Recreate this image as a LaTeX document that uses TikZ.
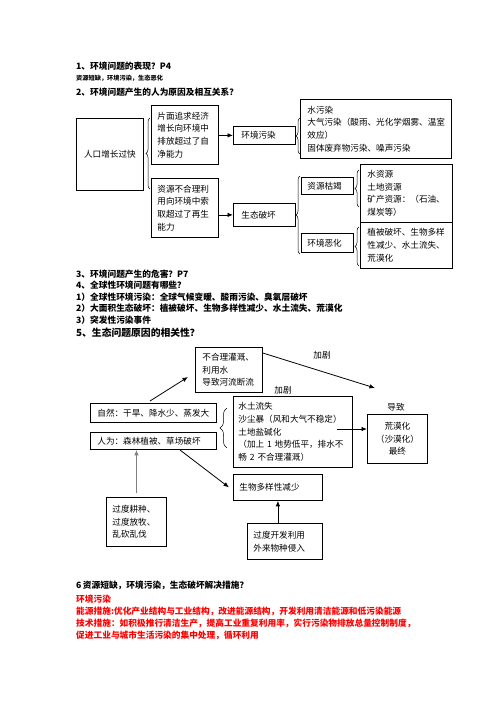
\documentclass[tikz,border=0pt]{standalone}
\usepackage{fontspec}
\setmainfont{Noto Sans CJK SC}
\usetikzlibrary{arrows.meta,decorations.pathreplacing,calc}
\definecolor{redtxt}{RGB}{255,0,0}
\definecolor{grayarr}{RGB}{128,128,128}
\tikzset{
  box/.style={draw, line width=0.8pt, inner sep=0pt, anchor=north west,
    font=\fontsize{8.6}{12.7}\selectfont},
  lbox/.style={box, align=left},
  cbox/.style={box, align=center},
  head/.style={font=\bfseries\fontsize{8.7}{10}\selectfont, anchor=west, inner sep=0pt},
  redline/.style={head, text=redtxt},
  lbl/.style={font=\fontsize{8.6}{10}\selectfont, inner sep=0pt},
  arr/.style={-{Latex[length=5.5pt,width=4.5pt]}, line width=0.8pt},
  grayarrow/.style={-{Latex[length=5.5pt,width=4.5pt]}, line width=1.6pt, draw=grayarr},
  brc/.style={decorate, decoration={brace, amplitude=4pt}, line width=0.5pt},
}
\begin{document}
\begin{tikzpicture}[x=1pt,y=-1pt]
\fill[white] (0,0) rectangle (496,702);
\useasboundingbox (0,0) rectangle (496,702);

% ---------- headings ----------
\node[head] (t1) at (76,66) {1、环境问题的表现？P4};
\node[head, font=\bfseries\fontsize{6.2}{8}\selectfont] (t2) at (76,78.5) {资源短缺，环境污染，生态恶化};
\node[head] (t3) at (76,92) {2、环境问题产生的人为原因及相互关系？};

% ---------- diagram 1 ----------
\node[cbox, minimum width=67, minimum height=72] (A) at (76,118) {人口增长过快};
\node[lbox, minimum width=67, minimum height=59, text width=55] (B1) at (151,105)
  {片面追求经济\\增长向环境中\\排放超过了自\\净能力};
\node[lbox, minimum width=67, minimum height=59, text width=55] (B2) at (151,178)
  {资源不合理利\\用向环境中索\\取超过了再生\\能力};
\node[lbox, minimum width=62, minimum height=18, text width=46] (C1) at (233,126) {环境污染};
\node[lbox, minimum width=62, minimum height=23, text width=46] (C2) at (233,203) {生态破坏};
\node[lbox, minimum width=151, minimum height=59, text width=137] (D1) at (300,99)
  {水污染\\大气污染（酸雨、光化学烟雾、温室\\效应）\\固体废弃物污染、噪声污染};
\node[lbox, minimum width=52, minimum height=17, text width=40] (E1) at (301,177) {资源枯竭};
\node[lbox, minimum width=52, minimum height=19, text width=40] (E2) at (301,233) {环境恶化};
\node[lbox, minimum width=92, minimum height=58, text width=78] (F1) at (360,164)
  {水资源\\土地资源\\矿产资源：（石油、\\煤炭等）};
\node[lbox, minimum width=92, minimum height=46, text width=78] (F2) at (360,222)
  {植被破坏、生物多样\\性减少、水土流失、\\荒漠化};

\draw[brc] (150,189) -- (150,118);
\draw[brc] (300,154) -- (300,118);
\draw[brc] (300,254) -- (300,176);
\draw[brc] (359,207) -- (359,170);
\draw[brc] (359,266) -- (359,227);

\draw[arr] (B1.east |- C1.west) -- (C1.west);
\draw[arr] (B2.east |- C2.west) -- (C2.west);

% ---------- middle text ----------
\node[head] (t4) at (76,274) {3、环境问题产生的危害？P7};
\node[head] (t5) at (76,285.5) {4、全球性环境问题有哪些？};
\node[head] (t6) at (76,297) {1）全球性环境污染：全球气候变暖、酸雨污染、臭氧层破坏};
\node[head] (t7) at (76,308.5) {2）大面积生态破坏：植被破坏、生物多样性减少、水土流失、荒漠化};
\node[head] (t8) at (76,320) {3）突发性污染事件};
\node[head, font=\bfseries\fontsize{9.8}{11}\selectfont] (t9) at (76,333) {5、生态问题原因的相关性？};

% ---------- diagram 2 ----------
\node[lbox, minimum width=67, minimum height=45, text width=53] (G) at (195,347)
  {不合理灌溉、\\利用水\\导致河流断流};
\node[lbox, minimum width=126, minimum height=19, text width=112] (H1) at (90,403) {自然：干旱、降水少、蒸发大};
\node[lbox, minimum width=126, minimum height=17, text width=112] (H2) at (90,432) {人为：森林植被、草场破坏};
\node[lbox, minimum width=119, minimum height=71, text width=109] (I) at (233,396)
  {水土流失\\沙尘暴（风和大气不稳定）\\土地盐碱化\\（加上 1 地势低平，排水不\\畅 2 不合理灌溉）};
\node[cbox, minimum width=60, minimum height=49] (J) at (367,414) {荒漠化\\（沙漠化）\\最终};
\node[lbox, minimum width=89, minimum height=26, text width=77] (K) at (233,474) {生物多样性减少\\[4pt]};
\node[lbox, minimum width=60, minimum height=49, text width=48] (L) at (106,497)
  {过度耕种、\\过度放牧、\\乱砍乱伐};
\node[lbox, minimum width=75, minimum height=36, text width=63] (M) at (247,523)
  {过度开发利用\\外来物种侵入};

\node[lbl] (j1) at (322,355) {加剧};
\node[lbl] (j2) at (283,390) {加剧};
\node[lbl] (j3) at (396,407) {导致};

\draw[brc, decoration={brace, amplitude=7pt}] (227,448) -- (227,408);

\coordinate (p1) at (150,401);
\coordinate (p2) at (188,377);
\draw[arr] (p1) -- (p2);
\coordinate (g1) at ($(G.north east)+(0,6)$);
\coordinate (g2) at (375,388);
\draw[arr] (g1) -- (g2);
\coordinate (q1) at (337,429);
\draw[arr] (q1) -- (J.west |- q1);
\coordinate (h1) at (180,450);
\draw[arr] (h1) -- ($(K.west)+(-4,0)$);
\draw[grayarrow, shorten <=4pt] (L.north) -- (L.north |- H2.south);
\draw[arr] (K.south |- M.north) -- (K.south);

% ---------- bottom text ----------
\node[head] (t10) at (76,585) {6\,资源短缺，环境污染，生态破坏解决措施？};
\node[redline] (t11) at (76,599.5) {环境污染};
\node[redline] (t12) at (76,611.5) {能源措施:优化产业结构与工业结构，改进能源结构，开发利用清洁能源和低污染能源};
\node[redline] (t13) at (76,623.5) {技术措施：如积极推行清洁生产，提高工业重复利用率，实行污染物排放总量控制制度，};
\node[redline] (t14) at (76,635.5) {促进工业与城市生活污染的集中处理，循环利用};
\end{tikzpicture}
\end{document}
